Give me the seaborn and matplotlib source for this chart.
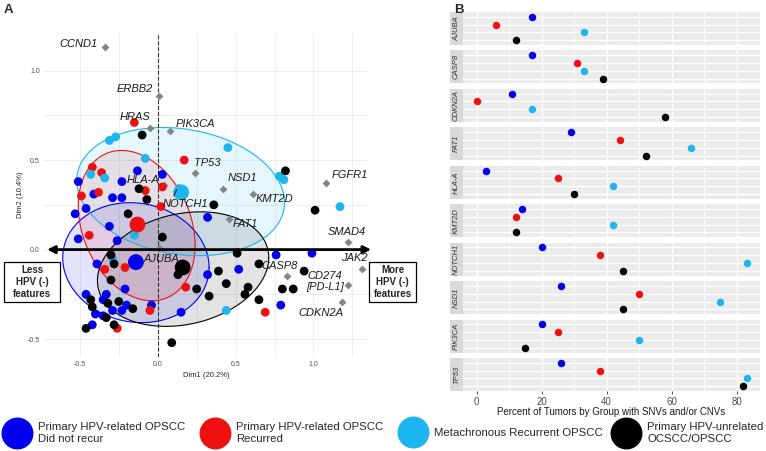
import numpy as np
import pandas as pd
import seaborn as sns
import matplotlib.pyplot as plt
from matplotlib.lines import Line2D
from matplotlib.patches import Rectangle

# groups and colours
groups = ["Primary HPV-related OPSCC\nDid not recur", "Primary HPV-related OPSCC\nRecurred",
          "Metachronous Recurrent OPSCC", "Primary HPV-unrelated\nOCSCC/OPSCC"]
colors = ["#0000EE", "#EE1111", "#1CB5EE", "#000000"]

# panel A: tumours on the first two dimensions
blue_x = [0.03, -0.13, -0.51, -0.23, -0.41, -0.29, -0.23, -0.46, -0.53, -0.31, -0.51, -0.26, -0.39, -0.21, -0.46, -0.33,
          -0.35, -0.29, -0.23, -0.20, -0.40, -0.35, -0.04, -0.42, 0.32, 0.32, 0.52, 0.15, 0.76, 0.99, 0.79]
blue_y = [0.42, 0.44, 0.38, 0.38, 0.31, 0.29, 0.29, 0.23, 0.20, 0.13, 0.06, 0.05, -0.08, -0.22, -0.25, -0.25,
          -0.28, -0.34, -0.34, -0.31, -0.36, -0.37, -0.31, -0.42, 0.18, -0.14, -0.11, -0.35, -0.03, -0.02, -0.31]
red_x = [-0.15, 0.17, -0.42, -0.36, -0.08, -0.49, -0.38, 0.03, 0.02, -0.44, -0.34, -0.21, -0.05, -0.26, 0.18, 0.69]
red_y = [0.71, 0.50, 0.46, 0.43, 0.33, 0.30, 0.32, 0.35, 0.24, 0.08, -0.11, -0.10, -0.34, -0.44, -0.21, -0.35]
cyan_x = [-0.31, -0.27, -0.08, -0.43, -0.34, 0.45, 0.78, 0.81, 1.17, -0.15, -0.29, 0.44]
cyan_y = [0.61, 0.63, 0.51, 0.42, 0.40, 0.57, 0.41, 0.39, 0.24, 0.08, -0.05, -0.34]
black_x = [-0.10, 0.82, -0.12, -0.07, 0.36, -0.19, 1.01, 0.03, -0.30, -0.28, -0.30, -0.43, -0.25, -0.32, -0.42, -0.16,
           -0.33, -0.28, -0.46, 0.13, 0.39, 0.51, 0.65, 0.25, 0.44, 0.33, 0.58, 0.56, 0.65, 0.09, 0.94, 0.80, 0.87]
black_y = [0.64, 0.44, 0.34, 0.28, 0.25, 0.20, 0.22, 0.07, -0.03, -0.08, -0.17, -0.28, -0.29, -0.30, -0.32, -0.33,
           -0.38, -0.42, -0.44, -0.14, -0.12, -0.02, -0.08, -0.22, -0.19, -0.26, -0.21, -0.25, -0.28, -0.52, -0.12,
           -0.22, -0.22]

# group means
centroid_x = [-0.14, -0.13, 0.15, 0.16]
centroid_y = [-0.07, 0.14, 0.32, -0.10]

# ellipses: centre, half width, half height, correlation
ell_cx = [-0.14, -0.135, 0.147, 0.163]
ell_cy = [-0.073, 0.134, 0.324, -0.109]
ell_sx = [0.47, 0.375, 0.667, 0.55]
ell_sy = [0.335, 0.42, 0.358, 0.32]
ell_rho = [-0.08, -0.26, -0.17, 0.2]

# gene loadings
genes_a = ["CCND1", "ERBB2", "HRAS", "PIK3CA", "TP53", "NSD1", "KMT2D", "FGFR1", "HLA-A", "NOTCH1", "FAT1",
           "SMAD4", "JAK2", "CD274\n[PD-L1]", "CDKN2A", "CASP8", "AJUBA"]
gene_x = [-0.34, 0.01, -0.05, 0.08, 0.24, 0.42, 0.61, 1.08, 0.04, 0.13, 0.46, 1.22, 1.31, 1.22, 1.18, 0.83, 0.01]
gene_y = [1.13, 0.86, 0.68, 0.66, 0.43, 0.34, 0.31, 0.37, 0.36, 0.35, 0.17, 0.04, -0.11, -0.20, -0.29, -0.15, 0.01]

# panel B: percent of tumours with SNVs and/or CNVs
genes_b = ["AJUBA", "CASP8", "CDKN2A", "FAT1", "HLA-A", "KMT2D", "NOTCH1", "NSD1", "PIK3CA", "TP53"]
pct_did_not_recur = [17, 17, 11, 29, 3, 14, 20, 26, 20, 26]
pct_recurred = [6, 31, 0, 44, 25, 12, 38, 50, 25, 38]
pct_metachronous = [33, 33, 17, 66, 42, 42, 83, 75, 50, 83]
pct_unrelated = [12, 39, 58, 52, 30, 12, 45, 45, 15, 82]

palette = dict(zip(groups, colors))

sns.set_theme(style="white")
plt.rcParams['font.family'] = ['Liberation Sans', 'DejaVu Sans']

W, H = 766, 451
fig = plt.figure(figsize=(W / 100, H / 100), dpi=100)

# ---------------- panel A ----------------
axA = fig.add_axes([44 / W, 1 - 357 / H, 324 / W, 324 / H])

dfA = pd.DataFrame({
    'x': blue_x + red_x + cyan_x + black_x,
    'y': blue_y + red_y + cyan_y + black_y,
    'group': [groups[0]] * len(blue_x) + [groups[1]] * len(red_x) + [groups[2]] * len(cyan_x)
             + [groups[3]] * len(black_x),
})
dfC = pd.DataFrame({'x': centroid_x, 'y': centroid_y, 'group': groups})
dfG = pd.DataFrame({'x': gene_x, 'y': gene_y, 'gene': genes_a})

t = np.linspace(0, 2 * np.pi, 300)
for i, g in enumerate(groups):
    ex = ell_cx[i] + ell_sx[i] * np.cos(t)
    ey = ell_cy[i] + ell_sy[i] * np.cos(t - np.arccos(ell_rho[i]))
    axA.fill(ex, ey, color=colors[i], alpha=0.11, lw=0, zorder=1)
    axA.plot(ex, ey, color=colors[i], lw=0.8, zorder=1.5)

axA.axvline(0, ls='--', color='#333333', lw=0.8, zorder=2)

sns.scatterplot(data=dfG, x='x', y='y', marker='D', color='#858585', s=16, linewidth=0, ax=axA, zorder=3)
sns.scatterplot(data=dfA, x='x', y='y', hue='group', palette=palette, hue_order=groups, s=40, linewidth=0,
                legend=False, ax=axA, zorder=4)
sns.scatterplot(data=dfC, x='x', y='y', hue='group', palette=palette, hue_order=groups, s=130, linewidth=0,
                legend=False, ax=axA, zorder=5)

# label placement (pixel offsets, alignment)
label_pos = {
    "CCND1": (-7, 3, 'right'), "ERBB2": (-6, 7, 'right'), "HRAS": (-15, 11, 'center'),
    "PIK3CA": (5, 7, 'left'), "TP53": (-1, 10, 'left'), "NSD1": (5, 11, 'left'),
    "KMT2D": (3, -5, 'left'), "FGFR1": (6, 8, 'left'), "HLA-A": (-5, 5, 'right'),
    "FAT1": (3, -5, 'left'), "SMAD4": (18, 10, 'right'), "JAK2": (6, 11, 'right'),
    "CD274\n[PD-L1]": (-23, 4, 'center'), "CDKN2A": (-21, -11, 'center'),
    "CASP8": (-7, 10, 'center'), "AJUBA": (2, -11, 'center'),
}
for gname, gx, gy in zip(genes_a, gene_x, gene_y):
    if gname == "NOTCH1":
        axA.annotate(gname, (gx, gy), xytext=(8, -17), textcoords='offset pixels', ha='center', va='center',
                     fontsize=8, style='italic', color='#1a1a1a', zorder=6,
                     arrowprops=dict(arrowstyle='-', color='#1a1a1a', lw=0.7, relpos=(0.2, 1.0),
                                     shrinkA=0, shrinkB=2))
        continue
    dx, dy, ha = label_pos[gname]
    axA.annotate(gname, (gx, gy), xytext=(dx, dy), textcoords='offset pixels', ha=ha, va='center',
                 fontsize=8, style='italic', color='#1a1a1a', zorder=6, multialignment='center',
                 linespacing=1.1)

axA.annotate('', xy=(1.37, 0), xytext=(-0.71, 0), annotation_clip=False,
             arrowprops=dict(arrowstyle='<|-|>', lw=2, color='black', mutation_scale=11,
                             shrinkA=0, shrinkB=0), zorder=7)

axA.set_xlim(-0.73, 1.35)
axA.set_ylim(-0.60, 1.21)
axA.set_xticks([-0.5, 0, 0.5, 1.0])
axA.set_xticklabels(["-0.5", "0.0", "0.5", "1.0"])
axA.set_yticks([-0.5, 0, 0.5, 1.0])
axA.set_yticklabels(["-0.5", "0.0", "0.5", "1.0"])
axA.set_xticks([-0.25, 0.25, 0.75, 1.25], minor=True)
axA.set_yticks([-0.25, 0.25, 0.75], minor=True)
axA.grid(True, which='both', color='#EBEBEB', lw=0.6)
axA.set_axisbelow(True)
axA.tick_params(which='both', length=0, labelsize=5, labelcolor='#4D4D4D', pad=3)
for s in axA.spines.values():
    s.set_visible(False)
axA.set_xlabel("Dim1 (20.2%)", fontsize=5.5, labelpad=3)
axA.set_ylabel("Dim2 (10.4%)", fontsize=5.5, labelpad=3)

# side boxes
for (x0, x1), txt in [((4, 60), "Less\nHPV (-)\nfeatures"), ((369, 416), "More\nHPV (-)\nfeatures")]:
    fig.patches.append(Rectangle((x0 / W, 1 - 302 / H), (x1 - x0) / W, 40 / H, transform=fig.transFigure,
                                 fc='white', ec='black', lw=0.9, zorder=8))
    fig.text((x0 + x1) / 2 / W, 1 - 282 / H, txt, ha='center', va='center', fontsize=7,
             fontweight='bold', linespacing=1.25, zorder=9)

# ---------------- panel B ----------------
dfB = pd.DataFrame({
    'gene': genes_b * 4,
    'pct': pct_did_not_recur + pct_recurred + pct_metachronous + pct_unrelated,
    'group': [g for g in groups for _ in genes_b],
})

gs = fig.add_gridspec(len(genes_b), 1, left=463 / W, right=760 / W, top=1 - 12 / H, bottom=1 - 391 / H,
                      hspace=0.17)
for i, gene in enumerate(genes_b):
    ax = fig.add_subplot(gs[i])
    sub = dfB[dfB['gene'] == gene]
    sns.stripplot(data=sub, x='pct', y='group', hue='group', palette=palette, order=groups, hue_order=groups,
                  jitter=False, size=5.4, linewidth=0, legend=False, ax=ax, zorder=3)
    ax.set_facecolor('#EBEBEB')
    ax.set_xlim(-4.15, 87.15)
    ax.set_ylim(3.6, -0.6)
    ax.set_xticks([0, 20, 40, 60, 80])
    ax.set_xticks([10, 30, 50, 70], minor=True)
    ax.grid(True, which='major', color='white', lw=1.0)
    ax.grid(True, which='minor', axis='x', color='white', lw=0.6)
    ax.set_axisbelow(True)
    ax.set_ylabel('')
    ax.set_xlabel('')
    ax.set_yticklabels([])
    ax.tick_params(axis='y', length=0)
    for s in ax.spines.values():
        s.set_visible(False)
    if i < len(genes_b) - 1:
        ax.set_xticklabels([])
        ax.tick_params(axis='x', length=0)
    else:
        ax.tick_params(axis='x', which='major', length=2.5, width=0.6, color='#333333',
                       labelsize=7, labelcolor='#4D4D4D', pad=2, bottom=True)
        ax.tick_params(axis='x', which='minor', length=0)
        ax.set_xlabel("Percent of Tumors by Group with SNVs and/or CNVs", fontsize=7, labelpad=0,
                      color='#1a1a1a')
    ax.add_patch(Rectangle((-0.044, 0), 0.044, 1, transform=ax.transAxes, color='#D9D9D9',
                           clip_on=False, lw=0))
    ax.text(-0.022, 0.5, gene, transform=ax.transAxes, rotation=90, ha='center', va='center',
            fontsize=5.5, style='italic', color='#333333')

# panel letters
fig.text(4 / W, 1 - 10 / H, "A", fontsize=9.5, fontweight='bold', va='center')
fig.text(454 / W, 1 - 10 / H, "B", fontsize=9.5, fontweight='bold', va='center')

# legend, one entry per group
leg_centres = [17, 215, 413, 626]
for c, g, cx in zip(colors, groups, leg_centres):
    fig.legend([Line2D([], [], marker='o', ls='', color=c, markersize=22)], [g], loc='center left',
               bbox_to_anchor=((cx - 13) / W, 1 - 433 / H), frameon=False, fontsize=8.2, handlelength=2.3,
               handletextpad=0.7, borderaxespad=0, borderpad=0)

fig.savefig("out.png", dpi=100)
